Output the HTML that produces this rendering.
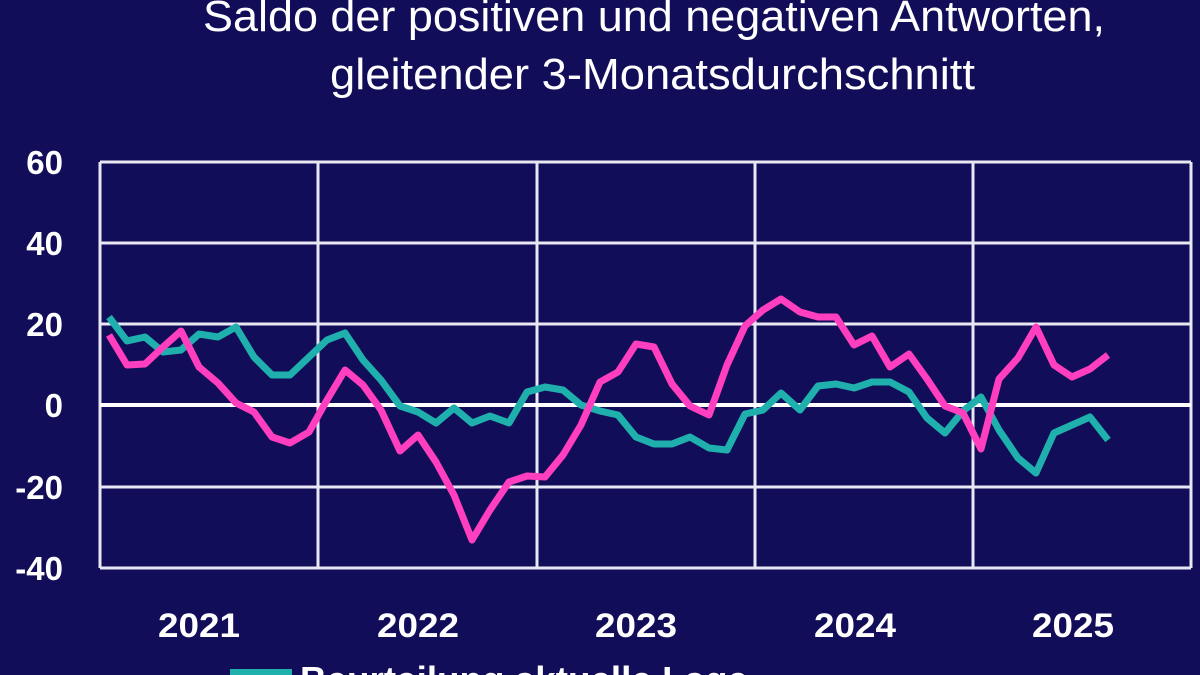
<!DOCTYPE html>
<html><head><meta charset="utf-8"><style>
html,body{margin:0;padding:0;background:#120d58;}
svg{display:block;}
</style></head><body>
<svg width="1200" height="675" viewBox="0 0 1200 675" xmlns="http://www.w3.org/2000/svg">
<rect width="1200" height="675" fill="#120d58"/>
<g font-family="Liberation Sans, sans-serif" fill="#ffffff">
<text x="203" y="31" font-size="44" textLength="902" lengthAdjust="spacingAndGlyphs">Saldo der positiven und negativen Antworten,</text>
<text x="330" y="89" font-size="44" textLength="645" lengthAdjust="spacingAndGlyphs">gleitender 3-Monatsdurchschnitt</text>
</g>
<g stroke="#e8e8f4" stroke-width="3" fill="none">
<line x1="100" y1="162" x2="1191" y2="162"/>
<line x1="100" y1="243" x2="1191" y2="243"/>
<line x1="100" y1="324" x2="1191" y2="324"/>
<line x1="100" y1="487" x2="1191" y2="487"/>
<line x1="100" y1="568" x2="1191" y2="568"/>
<line x1="100" y1="162" x2="100" y2="568"/>
<line x1="318" y1="162" x2="318" y2="568"/>
<line x1="537" y1="162" x2="537" y2="568"/>
<line x1="755" y1="162" x2="755" y2="568"/>
<line x1="973" y1="162" x2="973" y2="568"/>
<line x1="1191" y1="162" x2="1191" y2="568"/>
</g>
<line x1="100" y1="405" x2="1191" y2="405" stroke="#ffffff" stroke-width="4"/>
<g font-family="Liberation Sans, sans-serif" font-weight="bold" fill="#ffffff" font-size="33" text-anchor="end">
<text x="63" y="174">60</text>
<text x="63" y="255">40</text>
<text x="63" y="336">20</text>
<text x="63" y="417">0</text>
<text x="63" y="499">-20</text>
<text x="63" y="580">-40</text>
</g>
<g font-family="Liberation Sans, sans-serif" font-weight="bold" fill="#ffffff" font-size="34">
<text x="158" y="637" textLength="82" lengthAdjust="spacingAndGlyphs">2021</text>
<text x="377" y="637" textLength="82" lengthAdjust="spacingAndGlyphs">2022</text>
<text x="595" y="637" textLength="82" lengthAdjust="spacingAndGlyphs">2023</text>
<text x="814" y="637" textLength="82" lengthAdjust="spacingAndGlyphs">2024</text>
<text x="1032" y="637" textLength="82" lengthAdjust="spacingAndGlyphs">2025</text>
</g>
<polyline fill="none" stroke="#1fb0ae" stroke-width="7" stroke-linejoin="round" points="109,317 127,341 145,337 163,352 181,350 199,334 218,337 236,327 254,357 272,375 290,375 309,357 327,340 345,333 363,360 381,380 400,406 418,412 436,423 454,408 472,423 490,416 509,423 527,392 545,387 563,390 581,405 600,411 618,415 636,437 654,444 672,444 690,437 709,448 727,450 745,414 763,410 781,393 800,410 818,386 836,384 854,388 872,382 890,382 909,392 927,418 945,433 963,411 981,397 999,430 1018,458 1036,473 1054,433 1072,425 1090,417 1108,440"/>
<polyline fill="none" stroke="#ff3fbf" stroke-width="7" stroke-linejoin="round" points="109,335 127,365 145,364 163,347 181,331 199,367 218,383 236,403 254,412 272,437 290,443 309,432 327,400 345,370 363,385 381,410 400,451 418,435 436,462 454,495 472,540 490,510 509,482 527,476 545,477 563,455 581,425 600,382 618,372 636,344 654,347 672,384 690,406 709,415 727,365 745,326 763,310 781,299 800,312 818,317 836,317 854,345 872,336 890,367 909,354 927,379 945,406 963,413 981,449 999,379 1018,358 1036,327 1054,365 1072,377 1090,369 1108,355"/>
<rect x="230" y="669" width="62" height="8" fill="#1fb0ae"/>
<text x="300" y="692" font-family="Liberation Sans, sans-serif" font-weight="bold" font-size="36" fill="#ffffff" textLength="448" lengthAdjust="spacingAndGlyphs">Beurteilung aktuelle Lage</text>
</svg>
</body></html>
